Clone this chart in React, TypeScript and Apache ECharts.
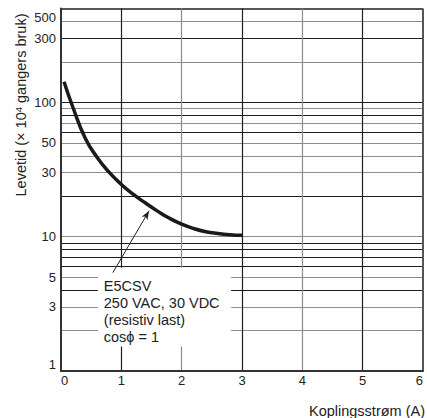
import React, { useEffect, useRef } from 'react';
import * as echarts from 'echarts';

// Curve: koplingsstrøm (A) vs levetid (x10^4 ganger)
const currentValues = [0.05, 0.2, 0.4, 0.6, 0.8, 1.0, 1.2, 1.4, 1.6, 1.8, 2.0, 2.2, 2.4, 2.6, 2.8, 3.0];
const lifeValues = [142.6, 91.2, 54.3, 38.9, 30.1, 24.5, 20.65, 17.8, 15.5, 13.7, 12.4, 11.5, 10.9, 10.57, 10.35, 10.23];

const xTickLabels = [0, 1, 2, 3, 4, 5, 6];
const xGridLines = [1, 2, 3, 4, 5];
const yGridLines = [2, 3, 4, 5, 6, 7, 8, 9, 10, 20, 30, 40, 50, 60, 70, 80, 90, 100, 200, 300, 400];
const yTickLabels = [1, 3, 5, 10, 30, 50, 100, 300, 500];
const yMin = 1;
const yMax = 500;

const noteLines = ['E5CSV', '250 VAC, 30 VDC', '(resistiv last)', 'cosϕ = 1'];
const noteBoxX = [0.61, 2.82];
const noteBoxY = [5.87, 1.52];
const arrowFrom = [0.86, 5.4];
const arrowTo = [1.46, 15.6];

const xAxisName = 'Koplingsstrøm (A)';
const yAxisNameParts = ['Levetid (× 10', '4', ' gangers bruk)'];

const FONT = '"Liberation Sans", Arial, Helvetica, sans-serif';
const DARK = '#1e1e1e';
const GRAY = '#8c8c8c';
const TEXT = '#222';
const darkY = new Set([4, 6, 7, 8, 9, 20, 60, 80, 100, 300]);
const darkX = new Set([1, 3, 5]);

export default function App() {
  const ref = useRef<HTMLDivElement>(null);

  useEffect(() => {
    if (!ref.current) return;
    const chart = echarts.init(ref.current, null, { renderer: 'svg' });

    const yLineItems: any[] = yGridLines.map((v) => ({
      yAxis: v,
      lineStyle: { color: darkY.has(v) ? DARK : GRAY, width: 1.2, type: 'solid' },
      label: yTickLabels.includes(v)
        ? { show: true, position: 'start', formatter: String(v), distance: 5, fontSize: 13, color: TEXT, fontFamily: FONT }
        : { show: false },
    }));
    yLineItems.push({
      yAxis: yMax,
      lineStyle: { color: DARK, width: 1.5, type: 'solid' },
      label: { show: true, position: 'start', formatter: String(yMax), distance: 5, fontSize: 13, color: TEXT, fontFamily: FONT, verticalAlign: 'top', padding: [2, 0, 0, 0] },
    });
    yLineItems.push({
      yAxis: yMin,
      lineStyle: { color: '#333', width: 2, type: 'solid' },
      label: { show: true, position: 'start', formatter: String(yMin), distance: 5, fontSize: 13, color: TEXT, fontFamily: FONT, verticalAlign: 'bottom' },
    });
    const xLineItems: any[] = xGridLines.map((v) => ({
      xAxis: v,
      lineStyle: { color: darkX.has(v) ? DARK : GRAY, width: 1.2, type: 'solid' },
      label: { show: false },
    }));
    xLineItems.push({
      xAxis: xTickLabels[xTickLabels.length - 1],
      lineStyle: { color: '#555', width: 2, type: 'solid' },
      label: { show: false },
    });

    chart.setOption({
      animation: false,
      textStyle: { fontFamily: FONT },
      grid: { left: 61, right: 4, top: 8.5, bottom: 47 },
      xAxis: {
        type: 'value',
        min: 0,
        max: 6,
        interval: 1,
        z: 20,
        axisLine: { show: true, lineStyle: { color: '#333', width: 2 } },
        axisTick: { show: false },
        splitLine: { show: false },
        axisLabel: {
          fontSize: 13,
          color: TEXT,
          margin: 3,
          fontFamily: FONT,
          alignMinLabel: 'left',
          alignMaxLabel: 'right',
          formatter: (v: number) => (xTickLabels.includes(v) ? String(v) : ''),
        },
      },
      yAxis: {
        type: 'log',
        logBase: 10,
        min: yMin,
        max: yMax,
        z: 20,
        axisLine: { show: true, lineStyle: { color: '#333', width: 2 } },
        axisTick: { show: false },
        splitLine: { show: false },
        axisLabel: { show: false },
      },
      graphic: [
        {
          type: 'text',
          x: 21,
          y: 105,
          rotation: Math.PI / 2,
          style: {
            text: `${yAxisNameParts[0]}{sup|${yAxisNameParts[1]}}${yAxisNameParts[2]}`,
            fontSize: 14.5,
            fontFamily: FONT,
            fill: TEXT,
            align: 'center',
            verticalAlign: 'middle',
            rich: {
              sup: { fontSize: 9.5, fontFamily: FONT, fill: TEXT, verticalAlign: 'top', padding: [0, 0, 6, 0] },
            },
          },
        },
        {
          type: 'text',
          right: 2,
          top: 403,
          style: { text: xAxisName, fontSize: 14.5, fontFamily: FONT, fill: TEXT },
        },
      ],
      series: [
        {
          name: 'grid',
          type: 'line',
          data: [],
          z: 1,
          silent: true,
          markLine: {
            z: 5,
            silent: true,
            symbol: 'none',
            animation: false,
            emphasis: { disabled: true },
            data: [...yLineItems, ...xLineItems],
          },
        },
        {
          name: 'note',
          type: 'line',
          data: [],
          z: 2,
          silent: true,
          markArea: {
            z: 6,
            silent: true,
            animation: false,
            itemStyle: { color: '#ffffff', opacity: 1 },
            emphasis: { disabled: true },
            label: {
              show: true,
              position: 'insideTopLeft',
              distance: 6,
              padding: [3.5, 0, 0, 0],
              formatter: noteLines.join('\n'),
              fontSize: 14.5,
              lineHeight: 17,
              color: TEXT,
              fontFamily: FONT,
            },
            data: [[{ xAxis: noteBoxX[0], yAxis: noteBoxY[0] }, { xAxis: noteBoxX[1], yAxis: noteBoxY[1] }]],
          },
        },
        {
          name: 'arrow',
          type: 'line',
          data: [],
          z: 3,
          silent: true,
          markLine: {
            z: 7,
            silent: true,
            animation: false,
            symbol: ['none', 'arrow'],
            symbolSize: [5, 9],
            emphasis: { disabled: true },
            lineStyle: { color: TEXT, width: 1, type: 'solid' },
            label: { show: false },
            data: [[{ coord: arrowFrom }, { coord: arrowTo }]],
          },
        },
        {
          name: 'E5CSV',
          type: 'line',
          z: 10,
          smooth: 0.5,
          symbol: 'none',
          lineStyle: { color: '#1a1a1a', width: 3.5 },
          data: currentValues.map((x, i) => [x, lifeValues[i]]),
        },
      ],
    });

    return () => chart.dispose();
  }, []);

  return (
    <div
      ref={ref}
      style={{ position: 'fixed', left: 0, top: 0, width: 427, height: 418, background: '#fff' }}
    />
  );
}
